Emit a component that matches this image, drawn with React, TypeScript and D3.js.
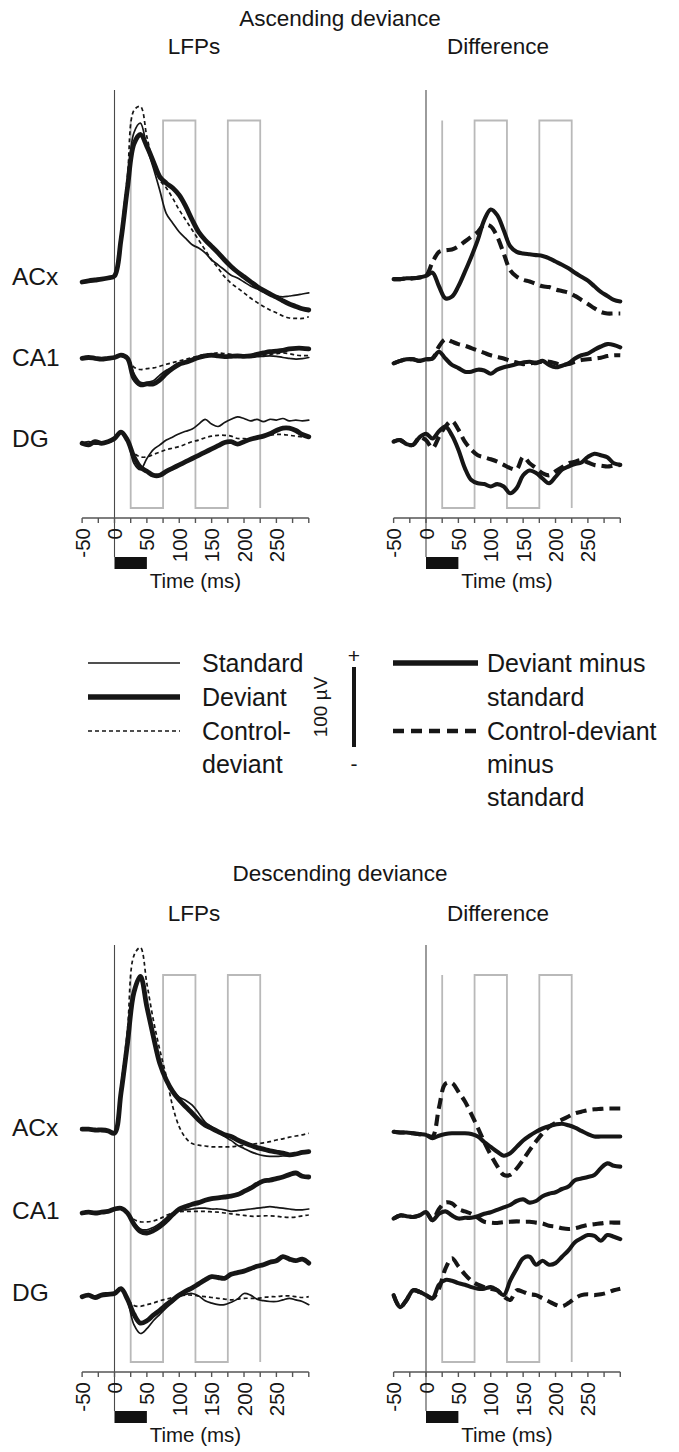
import React from "react";
import * as d3 from "d3";

const FONT = "'Liberation Sans', Arial, Helvetica, sans-serif";
const INK = "#161616";

// ---------- data ----------
const TIMES = [-50, -40, -30, -20, -10, 0, 10, 20, 30, 40, 50, 60, 70, 80, 90, 100, 110, 120, 130, 140, 150, 160, 170, 180, 190, 200, 210, 220, 230, 240, 250, 260, 270, 280, 290, 300];
const TICKS = [-50, -25, 0, 25, 50, 75, 100, 125, 150, 175, 200, 225, 250, 275, 300];
const TICK_LABELS = [-50, 0, 50, 100, 150, 200, 250];
const WINDOW_EDGES = [25, 75, 125, 175, 225];
const STIMULUS = [0, 50];
const ROWS = ["ACx", "CA1", "DG"];

// Ascending deviance, LFPs (µV)
const ascAcxStd = [-2.5, -1, 0, 1, 2.5, 5, 55, 120, 184, 196, 166, 140, 112, 83, 71, 60, 52, 44, 40, 34, 25, 19, 12.5, 6, 2.5, -2.5, -7.5, -11, -15, -17.5, -20, -21, -20, -19, -17.5, -16];
const ascAcxDev = [-2.5, -1, 0, 1, 2.5, 5, 50, 115, 170, 182, 167, 148, 129, 121, 115, 106, 92, 75, 60, 50, 42, 34, 25, 17, 10, 4, -2, -8, -13, -17.5, -21.5, -26, -30, -33, -36, -37.5];
const ascAcxCtl = [-2.5, -1, 0, 1, 2.5, 5, 60, 130, 212, 217, 179, 146, 125, 115, 102, 87.5, 75, 62.5, 50, 37.5, 25, 15, 4, -4, -10, -16, -22.5, -28, -33, -37.5, -41, -45, -47.5, -48, -48, -46];
const ascCa1Std = [0, 1, 0, -1, 0, 1, 4, 0, -19, -30, -30, -28, -21, -15, -11, -7.5, -5, -2, 0.8, 2.5, 2.5, 3, 2.5, 2, 1, 2, 1, 2, 2.5, 3, 2.5, 1, 0, -1, -0.5, 1];
const ascCa1Dev = [0, 1, 0, -1, 0, 1, 4, 0, -25, -33, -32, -32, -27, -19, -12.5, -7.5, -5, -2, 1, 3, 4, 3, 2, 2.5, 3, 2.5, 3, 5, 6.7, 8.3, 9, 10, 11.7, 12.5, 12.5, 11.7];
const ascCa1Ctl = [0, 1, 0, -1, 0, 1, 4, 0, -11, -14, -13, -12, -10, -7.5, -5.4, -3.3, -1.3, 0.8, 3, 5, 5.8, 6.7, 5.8, 5, 4, 3.3, 4, 5, 4, 5, 5.8, 6.7, 5.8, 4, 3.3, 3.3];
const ascDgStd = [0, 2, -1, 0, 2, 6, 14, 4, -25, -33, -19, -8, -2, 4, 8, 12, 15, 18, 24, 30, 24, 21, 26, 30, 33, 31, 28, 30, 27, 30, 29, 31, 28, 29, 28, 29];
const ascDgDev = [0, -2, 2, 0, 2, 6, 14, 4, -17, -30, -35, -40, -40, -35, -31, -27, -23, -19, -15, -11, -7, -3, 1, 2, -1, 2, 5, 7, 9, 12, 16, 19, 19, 16, 11, 8];
const ascDgCtl = [0, 1, 0, 2, 1, 5, 14, 4, -12, -17, -17, -14, -11, -8, -6, -4, -1, 2, 4, 7, 9, 10, 10, 9, 6, 6, 5, 6, 8, 10, 11, 11, 10, 9, 8, 8];

// Ascending deviance, differences (µV)
const ascAcxDms = [-1, -1, 0, 0, 1, 3, 7, -10, -25, -23, -10, 8, 27, 48, 73, 86, 79, 60, 40, 33, 31, 30, 29, 28, 25, 21, 17, 12.5, 7, 2, -3, -10, -17, -22, -27, -29];
const ascAcxCms = [-1, -1, 0, 0, 1, 3, 20, 33, 35, 36, 40, 46, 52, 58, 67, 65, 52, 31, 10, 2, -2, -4, -7, -10, -11, -14, -16, -18, -22, -27, -32, -37.5, -42, -44, -44, -44];
const ascCa1Dms = [-2, 1, 3, 3, 1, 3, 4, 12.5, 4, -4, -8, -12.5, -12.5, -10, -11, -15, -10, -7, -5, -3, -1, 0, -2, 1, -4, -7, -5, -2, 4, 8, 10, 15, 19, 22, 21, 18];
const ascCa1Cms = [-2, 1, 3, 3, 1, 3, 4, 19, 28, 25, 22, 20, 17, 14, 11, 8, 6, 4, 1, -1, -3, -2, -1, 0, 0, -2, -4, -3, 0, 2, 3, 4, 5, 7, 8, 8];
const ascDgDms = [2, 4, -1, -2, 7.5, 12, 6, 15, 21, 10, -8, -31, -46, -50, -51, -54, -51, -54, -62.5, -56, -40, -34, -37, -44, -50, -42, -33, -29, -26, -24, -17, -13, -15, -17.5, -25, -27];
const ascDgCms = [2, 4, -1, -2, 7.5, 4, -6, 8, 21, 28, 17, 2, -8, -15, -17.5, -20, -23, -27, -31, -32.5, -17, -25, -31, -37.5, -40, -35, -30, -25, -23, -21, -24, -27, -28, -29, -28, -27];

// Descending deviance, LFPs (µV)
const descAcxStd = [1, 1, 0, 0, -1, -4, 46, 108, 170, 190, 154, 117, 83, 65, 50, 41, 37, 31, 21, 10, 4, -2, -8, -13, -19, -23, -27, -30, -32, -33, -33, -32.5, -32, -31, -29, -27.5];
const descAcxDev = [1, 1, 0, 0, -1, -4, 46, 108, 172, 192, 154, 117, 83, 62.5, 48, 37.5, 29, 21, 12.5, 6, 2, -2, -6, -8, -12.5, -16, -19, -22, -24, -26, -27.5, -29, -31, -30, -28, -27];
const descAcxCtl = [1, 1, 0, 0, -1, -4, 55, 125, 218, 228, 183, 137.5, 100, 67, 29, 4, -10, -17, -19, -20, -21, -21, -21, -21, -20, -19, -18, -17, -16, -14.6, -12.5, -11, -9, -7.5, -6, -4];
const descCa1Std = [0, 1, 0, 1, 2, 5, 6, 0, -12, -20, -21, -18, -13, -6, 0, 3, 4, 5, 6, 6, 5, 5, 4, 2, 3, 4, 5, 6, 7, 8, 7, 6, 5, 4, 4, 5];
const descCa1Dev = [0, 1, 0, 1, 2, 5, 6, 0, -14, -23, -25, -22, -17, -10, -2, 5, 8, 11, 13, 16, 18, 19, 20, 21, 23, 27, 31, 36, 40, 41, 43, 45, 48, 50, 46, 45];
const descCa1Ctl = [0, 1, 0, 1, 2, 5, 6, 0, -8, -11, -11, -10, -7, -3, 0, 1.5, 2, 2, 2, 2, 1.5, 1, 0, -1, -2, -3, -4, -4, -3.5, -3.5, -4, -5, -5.5, -5, -3.5, -2.5];
const descDgStd = [0, 2, -1, 2, 3, 4, 10, -5, -35, -46, -40, -30, -22, -14, -7, 0, 3, 4, 1, -5, -8, -10, -10, -7, -3, 4, 2, -3, -5, -6, -6, -4, -2, -4, -6, -10];
const descDgDev = [0, 2, -1, 2, 3, 4, 10, -3, -22, -33, -30, -23, -17, -10, -4, 2, 7, 11, 16, 21, 25, 24, 23, 28, 30, 32, 35, 38, 40, 43, 45, 50, 47, 45, 47, 42];
const descDgCtl = [0, 2, -1, 2, 3, 4, 10, -3, -11, -12, -10, -8, -5, -3, -1, 1, 2, 2, 1, 0, -1, -2, -3, -4, -3, -2, -2, -2, -1, 0, 0, 1, 1, 0, -1, 0];

// Descending deviance, differences (µV)
const descAcxDms = [0, -1, -1, -2, -3, -4, -8, -5, -3, -2, -2, -2, -3, -6, -13, -19, -25, -30, -27, -19, -11, -5, 0, 4, 7, 9, 10, 8, 5, 1, -3, -6, -6, -6, -6, -6];
const descAcxCms = [0, -1, -1, -2, -3, -4, -6, 30, 60, 61, 50, 38, 22, 5, -13, -29, -43, -54, -54, -46, -35, -23, -12, -2, 6, 11, 15, 19, 23, 25, 27, 28, 28.5, 29, 29, 29];
const descCa1Dms = [-2, 2, 1, 0, 2, 6, -4, 4, 7, 2, -2, -1, -1, 1, 4, 6, 9, 12, 15, 20, 22, 18, 20, 26, 29, 31, 35, 38, 46, 48, 50, 52.5, 61, 67, 64, 63];
const descCa1Cms = [-2, 2, 1, 0, 2, 6, -4, 10, 18, 17, 10, 7, 4, -1, -6, -7, -7.5, -6.5, -6, -5.5, -6, -6, -7, -8, -11, -12, -14, -15, -14, -12, -10, -9, -8, -7, -7, -7];
const descDgDms = [2, -13, -4, 8, 6, 2, -2, 15, 21, 20, 17, 15, 12, 10, 10, 12, 8, 2, 20, 35, 48, 50, 40, 45, 40, 42, 50, 58, 68, 73, 77, 76, 70, 77, 75, 72];
const descDgCms = [2, -13, -4, 8, 6, 2, -2, 10, 35, 48, 38, 28, 20, 15, 12, 10, 8, 0, -4, 8, 6, 3, 2, -2, -6, -10, -12, -8, -2, 2, 3, 2, 3, 5, 8, 10];

// ---------- styles ----------
type Kind = "std" | "dev" | "ctl" | "dms" | "cms";
const STYLE: Record<Kind, { w: number; dash?: string }> = {
  std: { w: 1.7 },
  dev: { w: 4.8 },
  ctl: { w: 1.7, dash: "4 3" },
  dms: { w: 4.1 },
  cms: { w: 4.1, dash: "11 6" },
};

const PX_PER_MS = 0.6476;
const y = d3.scaleLinear().domain([0, 100]).range([0, -80]); // 100 µV = 80 px

type Row = { base: number; traces: { v: number[]; k: Kind }[] };
type Sec = { zeroTop: number; boxTop: number; boxBot: number; axisY: number; barTop: number; timeY: number };

function Panel({ zeroX, rows, sec }: { zeroX: number; rows: Row[]; sec: Sec }) {
  const x = d3.scaleLinear().domain([-50, 300]).range([zeroX - 50 * PX_PER_MS, zeroX + 300 * PX_PER_MS]);
  const boxPts: [number, number][] = [];
  WINDOW_EDGES.forEach((t, i) => {
    if (i % 2 === 0) boxPts.push([x(t), sec.boxTop], [x(t), sec.boxBot]);
    else boxPts.push([x(t), sec.boxBot], [x(t), sec.boxTop]);
  });
  const boxPath = d3.line()(boxPts) || "";
  return (
    <g>
      <path d={boxPath} fill="none" stroke="#b9b9b9" strokeWidth={1.8} />
      <line x1={x(0)} x2={x(0)} y1={sec.zeroTop} y2={sec.barTop} stroke="#4a4a4a" strokeWidth={1.1} />
      {rows.map((r, ri) => {
        const gen = d3
          .line<number>()
          .x((_, i) => x(TIMES[i]))
          .y((d) => r.base + y(d))
          .curve(d3.curveCatmullRom.alpha(0.5));
        return (
          <g key={ri}>
            {r.traces.map((t, ti) => (
              <path
                key={ti}
                d={gen(t.v) || ""}
                fill="none"
                stroke={INK}
                strokeWidth={STYLE[t.k].w}
                strokeDasharray={STYLE[t.k].dash}
                strokeLinejoin="round"
                strokeLinecap={STYLE[t.k].dash ? "butt" : "round"}
              />
            ))}
          </g>
        );
      })}
      <line x1={x(-50)} x2={x(300)} y1={sec.axisY} y2={sec.axisY} stroke="#555" strokeWidth={1.4} />
      {TICKS.map((t) => (
        <line key={t} x1={x(t)} x2={x(t)} y1={sec.axisY} y2={sec.axisY + 5} stroke="#555" strokeWidth={1.4} />
      ))}
      {TICK_LABELS.map((t) => (
        <text
          key={t}
          transform={`translate(${x(t)},${sec.axisY + 10}) rotate(-90)`}
          textAnchor="end"
          dominantBaseline="central"
          fontSize={20.5}
          fontFamily={FONT}
          fill={INK}
        >
          {t}
        </text>
      ))}
      <rect x={x(STIMULUS[0])} y={sec.barTop} width={x(STIMULUS[1]) - x(STIMULUS[0])} height={12} fill="#111" />
      <text x={x(125)} y={sec.timeY} textAnchor="middle" fontSize={20.5} fontFamily={FONT} fill={INK}>
        Time (ms)
      </text>
    </g>
  );
}

function Section({
  title, titleY, subY, sec, lfpBases, diffBases, lfp, diff, labelYs,
}: {
  title: string; titleY: number; subY: number; sec: Sec; lfpBases: number[]; diffBases: number[];
  lfp: number[][][]; diff: number[][][]; labelYs: number[];
}) {
  const lfpRows: Row[] = lfp.map((s, i) => ({
    base: lfpBases[i],
    traces: [
      { v: s[2], k: "ctl" },
      { v: s[0], k: "std" },
      { v: s[1], k: "dev" },
    ],
  }));
  const diffRows: Row[] = diff.map((s, i) => ({
    base: diffBases[i],
    traces: [
      { v: s[1], k: "cms" },
      { v: s[0], k: "dms" },
    ],
  }));
  return (
    <g>
      <text x={340} y={titleY} textAnchor="middle" fontSize={22.5} fontFamily={FONT} fill={INK}>{title}</text>
      <text x={194} y={subY} textAnchor="middle" fontSize={22.5} fontFamily={FONT} fill={INK}>LFPs</text>
      <text x={498} y={subY} textAnchor="middle" fontSize={22.5} fontFamily={FONT} fill={INK}>Difference</text>
      {ROWS.map((r, i) => (
        <text key={r} x={12} y={labelYs[i]} fontSize={24.5} fontFamily={FONT} fill={INK} dominantBaseline="central">{r}</text>
      ))}
      <Panel zeroX={114.5} rows={lfpRows} sec={sec} />
      <Panel zeroX={426} rows={diffRows} sec={sec} />
    </g>
  );
}

function Legend() {
  const f = { fontSize: 25, fontFamily: FONT, fill: INK } as const;
  return (
    <g>
      <line x1={88} x2={180} y1={663} y2={663} stroke={INK} strokeWidth={1.7} />
      <line x1={88} x2={180} y1={697} y2={697} stroke={INK} strokeWidth={5.5} />
      <line x1={88} x2={180} y1={731} y2={731} stroke={INK} strokeWidth={1.7} strokeDasharray="4 3" />
      <text x={202} y={663} dominantBaseline="central" {...f}>Standard</text>
      <text x={202} y={697} dominantBaseline="central" {...f}>Deviant</text>
      <text x={202} y={731} dominantBaseline="central" {...f}>Control-</text>
      <text x={202} y={764} dominantBaseline="central" {...f}>deviant</text>

      <text x={354} y={655} textAnchor="middle" dominantBaseline="central" fontSize={21} fontFamily={FONT} fill={INK}>+</text>
      <line x1={354} x2={354} y1={y(100) + 747} y2={747} stroke={INK} strokeWidth={4} />
      <text x={354} y={763} textAnchor="middle" dominantBaseline="central" fontSize={21} fontFamily={FONT} fill={INK}>-</text>
      <text transform="translate(320,707) rotate(-90)" textAnchor="middle" dominantBaseline="central" fontSize={19} fontFamily={FONT} fill={INK}>100 µV</text>

      <line x1={393} x2={478} y1={663} y2={663} stroke={INK} strokeWidth={5.5} />
      <line x1={393} x2={478} y1={731} y2={731} stroke={INK} strokeWidth={4.5} strokeDasharray="11 7" />
      <text x={487} y={663} dominantBaseline="central" {...f}>Deviant minus</text>
      <text x={487} y={697} dominantBaseline="central" {...f}>standard</text>
      <text x={487} y={731} dominantBaseline="central" {...f}>Control-deviant</text>
      <text x={487} y={764} dominantBaseline="central" {...f}>minus</text>
      <text x={487} y={797} dominantBaseline="central" {...f}>standard</text>
    </g>
  );
}

const TOP: Sec = { zeroTop: 90, boxTop: 120.5, boxBot: 508, axisY: 518, barTop: 557, timeY: 588 };
const BOT: Sec = { zeroTop: 945, boxTop: 975, boxBot: 1362, axisY: 1372, barTop: 1411, timeY: 1442 };

export default function App() {
  return (
    <svg
      width={679}
      height={1452}
      viewBox="0 0 679 1452"
      style={{ position: "absolute", left: 0, top: 0, display: "block", background: "#fff" }}
    >
      <rect width={679} height={1452} fill="#fff" />
      <Section
        title="Ascending deviance"
        titleY={26}
        subY={54}
        sec={TOP}
        lfpBases={[280, 358.3, 443.3]}
        diffBases={[278.3, 361.7, 443.3]}
        labelYs={[276, 357, 438]}
        lfp={[
          [ascAcxStd, ascAcxDev, ascAcxCtl],
          [ascCa1Std, ascCa1Dev, ascCa1Ctl],
          [ascDgStd, ascDgDev, ascDgCtl],
        ]}
        diff={[
          [ascAcxDms, ascAcxCms],
          [ascCa1Dms, ascCa1Cms],
          [ascDgDms, ascDgCms],
        ]}
      />
      <Legend />
      <Section
        title="Descending deviance"
        titleY={881}
        subY={921}
        sec={BOT}
        lfpBases={[1130, 1213, 1296.7]}
        diffBases={[1131.7, 1217, 1296.7]}
        labelYs={[1127, 1210, 1292]}
        lfp={[
          [descAcxStd, descAcxDev, descAcxCtl],
          [descCa1Std, descCa1Dev, descCa1Ctl],
          [descDgStd, descDgDev, descDgCtl],
        ]}
        diff={[
          [descAcxDms, descAcxCms],
          [descCa1Dms, descCa1Cms],
          [descDgDms, descDgCms],
        ]}
      />
    </svg>
  );
}
